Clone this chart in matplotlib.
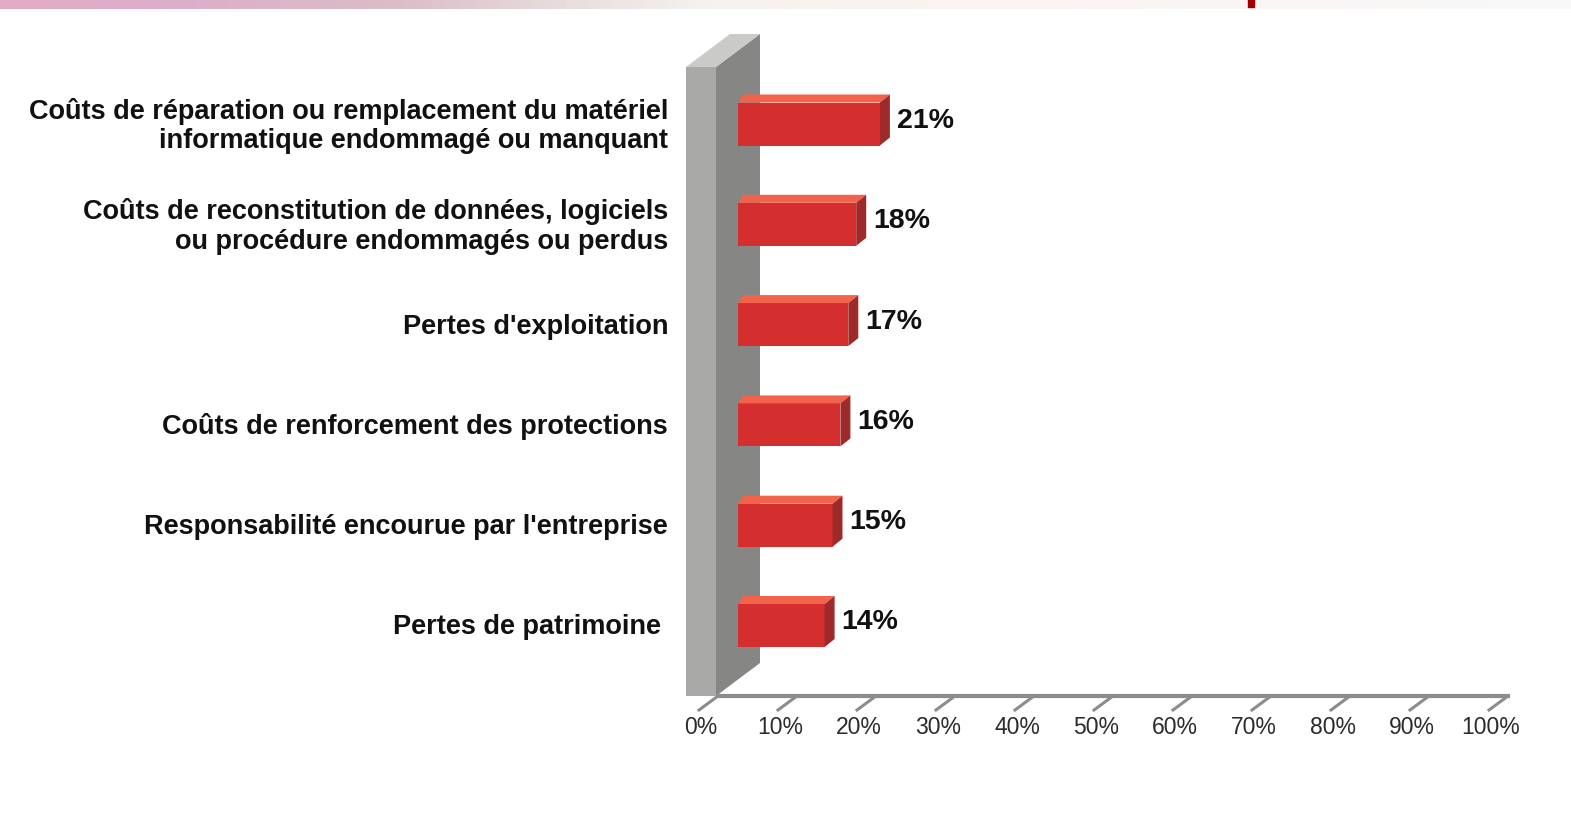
import numpy as np
import matplotlib.pyplot as plt
from matplotlib.patches import Polygon
from matplotlib.colors import LinearSegmentedColormap

# Data
categories = [
    "Coûts de réparation ou remplacement du matériel\ninformatique endommagé ou manquant",
    "Coûts de reconstitution de données, logiciels\nou procédure endommagés ou perdus",
    "Pertes d'exploitation",
    "Coûts de renforcement des protections",
    "Responsabilité encourue par l'entreprise",
    "Pertes de patrimoine ",
]
values = [21, 18, 17, 16, 15, 14]
value_labels = ["21%", "18%", "17%", "16%", "15%", "14%"]
ticks = [0, 10, 20, 30, 40, 50, 60, 70, 80, 90, 100]
tick_labels = ["0%", "10%", "20%", "30%", "40%", "50%", "60%", "70%", "80%", "90%", "100%"]

W, H = 1571, 820
X0, SCALE = 718, 7.9          # pixel of 0% and pixels per percent on the floor line
FLOOR = 697                   # floor row (pixels from top)
PX = 1 / SCALE                # one pixel in percent units

FONT = "Liberation Sans"


def p(px):
    """pixel column -> percent units"""
    return (px - X0) / SCALE


def poly(ax, pts, color, z=2):
    ax.add_patch(Polygon(pts, closed=True, facecolor=color, edgecolor="none", zorder=z))


fig = plt.figure(figsize=(W / 100, H / 100), dpi=100)
fig.patch.set_facecolor("white")

# top decorative band
band = fig.add_axes([0, 1 - 10 / H, 1, 10 / H])
cmap = LinearSegmentedColormap.from_list("band", [
    (0.00, (0.89, 0.67, 0.77)),
    (0.10, (0.86, 0.68, 0.79)),
    (0.25, (0.86, 0.74, 0.78)),
    (0.36, (0.91, 0.87, 0.87)),
    (0.45, (0.96, 0.95, 0.94)),
    (0.52, (0.98, 0.95, 0.94)),
    (1.00, (0.975, 0.975, 0.975)),
])
band.imshow(np.linspace(0, 1, 400)[None, :], aspect="auto", cmap=cmap, extent=(0, W, 0, 1))
band.axvspan(1248, 1254, ymin=0.25, ymax=1, color="#a00000")
band.set_xlim(0, W)
band.axis("off")

ax = fig.add_axes([0, 0, 1, 1])
ax.set_xlim(p(0), p(W))
ax.set_ylim(H, 0)
ax.axis("off")

# wall (depth offset of the wall: 44 px right, 33 px up)
wdx, wdy = 44 * PX, -33
wl, wr, wt = p(686), p(716), 68
poly(ax, [(wl, wt), (wr, wt), (wr, FLOOR), (wl, FLOOR)], "#a9a9a7", 1)
poly(ax, [(wr, wt), (wr + wdx, wt + wdy), (wr + wdx, FLOOR + wdy), (wr, FLOOR)], "#868684", 1)
poly(ax, [(wl, wt), (wr, wt), (wr + wdx, wt + wdy), (wl + wdx, wt + wdy)], "#cacac8", 1)

# floor line and slanted ticks
ax.plot([wr, 100 + 2 * PX], [FLOOR, FLOOR], color="#8c8c8c", lw=3, solid_capstyle="butt", zorder=1)
for t, lab in zip(ticks, tick_labels):
    ax.plot([t, t - 19 * PX], [FLOOR, FLOOR + 14], color="#8c8c8c", lw=2.2, zorder=1)
    ax.text(t - 17 * PX, 728, lab, ha="center", va="center", fontsize=16.5,
            color="#2b2b2b", family=FONT)

# bars
bar_zero = p(714)
start = p(738)
bh = 43
bdx, bdy = 10 * PX, -8
for i, (cat, v, lab) in enumerate(zip(categories, values, value_labels)):
    yc = 125 + i * 100.3
    top, bot = yc - bh / 2, yc + bh / 2
    end = bar_zero + v
    poly(ax, [(start, top), (end, top), (end, bot), (start, bot)], "#d42f2e", 3)
    poly(ax, [(start + 5 * PX, top + bdy), (end + bdx, top + bdy), (end, top), (start, top)], "#f2634c", 3)
    poly(ax, [(end, top), (end + bdx, top + bdy), (end + bdx, bot + bdy), (end, bot)], "#9e2a2a", 3)
    ax.text(end + bdx + 7 * PX, yc - 4, lab, ha="left", va="center", fontsize=20.5,
            fontweight="bold", color="#111111", family=FONT)
    ax.text(p(668), yc + 1, cat, ha="right", va="center", fontsize=19.5,
            fontweight="bold", color="#111111", family=FONT, linespacing=1.18)

fig.savefig("out.png", dpi=100)
